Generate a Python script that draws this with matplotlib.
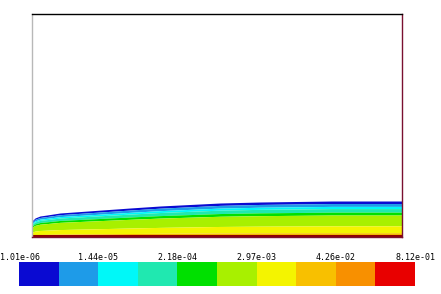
import matplotlib
matplotlib.use("Agg")
import matplotlib.pyplot as plt
import numpy as np

# x stations (pixel-like units from leading edge) and boundary layer thickness
x_st = [0, 3, 8, 15, 28, 56, 98, 128, 188, 228, 300, 370]
thick = [16, 19, 21, 22, 24, 26, 29, 31, 34, 35, 36, 36]

# band boundaries as fraction of thickness (top -> bottom), one colour per band
band_top = [1.00, 0.93, 0.85, 0.79, 0.69, 0.61, 0.31, 0.12, 0.07, 0.04]
band_bot = [0.93, 0.85, 0.79, 0.69, 0.61, 0.31, 0.12, 0.07, 0.04, 0.00]
band_colors = ["#0a0ad2", "#1e9be8", "#00f8f8", "#20e8b0", "#00e000",
               "#a8f000", "#f4f400", "#f8c000", "#f08c00", "#e00000"]

# colour bar
cb_colors = ["#0a0ad2", "#1e9be8", "#00f8f8", "#20e8b0", "#00e000",
             "#a8f000", "#f4f400", "#f8c000", "#f89000", "#e80000"]
cb_labels = ["1.01e-06", "1.44e-05", "2.18e-04", "2.97e-03", "4.26e-02", "8.12e-01"]

W, H = 441, 294
fig = plt.figure(figsize=(W / 100, H / 100), dpi=100)
fig.patch.set_facecolor("white")

ax = fig.add_axes([32 / W, (H - 237) / H, 370 / W, 223 / H])
xs = np.array(x_st, dtype=float)
th = np.array(thick, dtype=float)
for t, b, c in zip(band_top, band_bot, band_colors):
    ax.fill_between(xs, th * b, th * t, color=c, linewidth=0)
ax.axhline(0.8, color="#900000", lw=1.5)
ax.set_xlim(0, 370)
ax.set_ylim(0, 223)
ax.set_xticks([])
ax.set_yticks([])
ax.spines["left"].set_color("#b8b8b8")
ax.spines["top"].set_color("black")
ax.spines["right"].set_color("#7a1030")
ax.spines["bottom"].set_color("#7a1030")
for s in ax.spines.values():
    s.set_linewidth(1.0)

cax = fig.add_axes([19 / W, (H - 286) / H, 396 / W, 24 / H])
cax.bar(np.arange(len(cb_colors)), [1] * len(cb_colors), width=1.0, align="edge",
        color=cb_colors, linewidth=0)
cax.set_xlim(0, len(cb_colors))
cax.set_ylim(0, 1)
cax.axis("off")

for i, lab in enumerate(cb_labels):
    xp = (19 + i * 2 * 39.6) / W
    if i == 0:
        xp = 20 / W
    fig.text(xp, (H - 257) / H, lab, ha="center", va="center",
             fontsize=6, family="DejaVu Sans Mono", color="black")

fig.savefig("out.png", dpi=100, facecolor="white")
